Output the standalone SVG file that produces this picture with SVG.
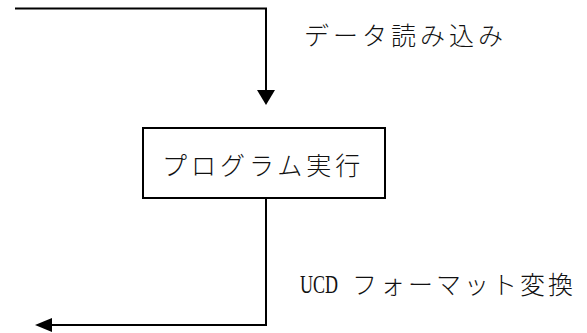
<svg xmlns="http://www.w3.org/2000/svg" width="587" height="333" viewBox="0 0 587 333">
<style>
.ln{fill:none;stroke:#000;stroke-width:2}
.ah{fill:#000}
.t{font-family:"Noto Sans CJK JP","Liberation Serif",sans-serif;font-size:25px;font-weight:300;fill:#111;letter-spacing:4px}
.u{font-family:"Liberation Serif","Noto Sans CJK JP",serif;font-size:25px;fill:#111}
</style>
<rect width="587" height="333" fill="#fff"/>
<g id="connectors">
<polyline class="ln" points="15,8.5 266,8.5 266,91"/>
<polygon class="ah" points="257,90 275,90 266,105"/>
<polyline class="ln" points="266,198 266,325 51,325"/>
<polygon class="ah" points="52,318 52,332 35,325"/>
</g>
<g id="label-read">
<text class="t" x="304" y="45">データ読み込み</text>
</g>
<g id="node-exec">
<rect x="143" y="128" width="242" height="70" fill="#fff" stroke="#000" stroke-width="2"/>
<text class="t" x="162" y="175">プログラム実行</text>
</g>
<g id="label-ucd">
<text class="u" x="300" y="293" textLength="38" lengthAdjust="spacingAndGlyphs">UCD</text>
<text class="t" x="352" y="294" style="letter-spacing:3px">フォーマット変換</text>
</g>
</svg>
